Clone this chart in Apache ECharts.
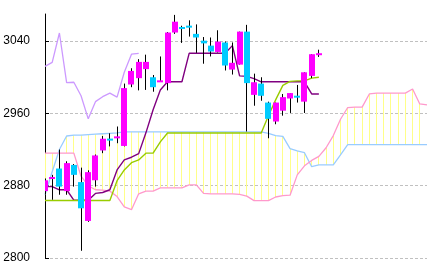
<!DOCTYPE html>
<html>
<head>
<meta charset="utf-8">
<script src="https://cdn.jsdelivr.net/npm/echarts@6/dist/echarts.min.js"></script>
<style>
html,body{margin:0;padding:0;background:#fff;}
#chart{width:432px;height:272px;}
</style>
</head>
<body>
<div id="chart"></div>
<script>
// ---- data ----
const categories = ['1','2','3','4','5','6','7','8','9','10','11','12','13','14','15','16','17','18','19','20',
  '21','22','23','24','25','26','27','28','29','30','31','32','33','34','35','36','37','38','39','40',
  '41','42','43','44','45','46','47','48','49','50','51','52','53','54'];

// candles: [open, close, low, high]
const candles = [
  [2874, 2886, 2870, 2888],
  [2888, 2889, 2864.5, 2892],
  [2899, 2879, 2870, 2920],
  [2874, 2905, 2870, 2907],
  [2903, 2892, 2879, 2904],
  [2884, 2855, 2808, 2900],
  [2841, 2895, 2840, 2897],
  [2886, 2913.5, 2879, 2914.5],
  [2919, 2932, 2916, 2935],
  [2932, 2930, 2923.5, 2938],
  [2933, 2934, 2927, 2945.5],
  [2924, 2988, 2923.5, 2993],
  [2992, 3007, 2989, 3010],
  [2999, 3017, 2985.5, 3020],
  [3009, 3017, 2986, 3025],
  [3000, 2989, 2984, 3002.5],
  [2995, 2996, 2995, 3023],
  [2993.5, 3049.5, 2985.5, 3050],
  [3049.5, 3061.5, 3048, 3069],
  [3055.5, 3053.5, 3038, 3057],
  [3057, 3055, 3045, 3063],
  [3048, 3044, 3027, 3058.5],
  [3040.5, 3037.5, 3015, 3044.5],
  [3035, 3028.5, 3023, 3044],
  [3028, 3039.5, 3027.5, 3052],
  [3038.5, 3013, 3007.5, 3039.5],
  [3008.5, 3016, 3003, 3038.5],
  [3014, 3050.5, 3014, 3050.5],
  [3050.5, 2993.5, 2940, 3058],
  [2980.5, 2994.5, 2968.5, 3004],
  [2993, 2979.5, 2974, 3000],
  [2972, 2954, 2932.5, 2973],
  [2951, 2972, 2948, 2972],
  [2963, 2978, 2957.5, 2981.5],
  [2976.5, 2982.5, 2960.5, 2982.5],
  [2979.5, 2977.5, 2972, 2991.5],
  [2973, 3005.5, 2960.5, 3005.5],
  [3001.5, 3025.5, 2999, 3025.5],
  [3024.5, 3026.5, 3022.5, 3030.5]
];

const tenkan = [2879, 2879, 2875.5, 2875.5, 2864, 2864, 2864, 2871.5, 2872.5, 2875.5,
  2897.5, 2908.5, 2911.5, 2915.5, 2938.5, 2964, 2986, 2995, 2995, 2995,
  3026.5, 3026.5, 3026.5, 3026.5, 3026.5, 3026.5, 3035, 3001.5, 3001, 2998.5,
  2995, 2995, 2995, 2995, 2995, 2995, 2995, 2981.5, 2981.5];

const kijun = [2863.7, 2863.7, 2863.7, 2863.7, 2863.7, 2863.7, 2863.7, 2863.7, 2863.7, 2863.7,
  2885.5, 2897.5, 2905.5, 2908.5, 2916, 2916, 2928.5, 2938.3, 2938.3, 2938.3,
  2938.3, 2938.3, 2938.3, 2938.3, 2938.3, 2938.3, 2938.3, 2938.3, 2938.3, 2938.3,
  2938.3, 2957.5, 2975, 2991, 2995.5, 2996, 2996, 2999, 3000];

const chikou = [3012, 3016.5, 3049, 2994, 2994.5, 2979.5, 2954, 2973, 2978.5, 2982.5,
  2978, 3005.5, 3025.5, 3026.5];

const spanBlue = [2870, 2895.5, 2920, 2935, 2936, 2936, 2936.5, 2937, 2937.5, 2938,
  2938.5, 2939.5, 2939.5, 2939.5, 2939.5, 2939.5, 2939.5, 2939.5, 2939.5, 2939.5,
  2939.5, 2939.5, 2939.5, 2939.5, 2939.5, 2939.5, 2939.5, 2939.5, 2939.5, 2939.5,
  2939.5, 2938, 2935.5, 2934.5, 2921, 2918.5, 2916.5, 2901, 2903, 2903,
  2903, 2914, 2925.5, 2925.5, 2925.5, 2925.5, 2925.5, 2925.5, 2925.5, 2925.5,
  2925.5, 2925.5, 2925.5, 2925.5];

const spanPink = [2916, 2916, 2916, 2916, 2916, 2890.5, 2880, 2875.5, 2875, 2874,
  2868, 2856.5, 2853.5, 2871, 2874, 2874, 2877.5, 2877.5, 2877.5, 2877.5,
  2881, 2881, 2871.5, 2871, 2871, 2871, 2871, 2870.5, 2868.5, 2863.5,
  2863.5, 2863.5, 2867.5, 2869, 2869.5, 2892, 2902, 2908, 2912.5, 2922,
  2935.5, 2953.5, 2966.5, 2967, 2967, 2981.5, 2982.5, 2982.5, 2982.5, 2982.5,
  2982.5, 2987, 2970.5, 2969.5];

const yTicks = [2800, 2880, 2960, 3040];

// ---- build ----
const candleData = candles.map((c, i) => [i, c[0], c[1], c[2], c[3]]);
const cloudData = spanBlue.map((v, i) => [i, v, spanPink[i]]);

const chart = echarts.init(document.getElementById('chart'), null, {renderer: 'canvas'});

function crisp(x) { return Math.round(x - 0.5) + 0.5; }

const option = {
  animation: false,
  backgroundColor: '#ffffff',
  grid: {left: 45, right: 5, top: 14, bottom: 14, containLabel: false},
  xAxis: {
    type: 'category',
    data: categories,
    boundaryGap: false,
    axisLine: {show: false},
    axisTick: {show: false},
    axisLabel: {show: false},
    splitLine: {show: false}
  },
  yAxis: {
    type: 'value',
    min: 2800,
    max: 3070,
    interval: 80,
    axisLine: {show: true, lineStyle: {color: '#000', width: 1}},
    axisTick: {show: true, inside: true, length: 4, lineStyle: {color: '#000'}, customValues: yTicks},
    axisLabel: {
      show: true, color: '#000', margin: 15,
      fontFamily: "'Liberation Sans Narrow', 'Liberation Sans', sans-serif", fontSize: 12,
      customValues: yTicks,
      formatter: function (v) { return String(v); }
    },
    splitLine: {show: true, lineStyle: {color: '#c0c0c0', type: [3, 2], width: 1}}
  },
  series: [
    {
      type: 'custom',
      name: 'cloud',
      z: 1,
      clip: true,
      data: cloudData,
      encode: {x: 0, y: [1, 2]},
      renderItem: function (params, api) {
        const p1 = api.coord([api.value(0), api.value(1)]);
        const p2 = api.coord([api.value(0), api.value(2)]);
        const x = crisp(p1[0]);
        return {type: 'line', shape: {x1: x, y1: p1[1], x2: x, y2: p2[1]},
          style: {stroke: '#ffff88', lineWidth: 1}};
      }
    },
    {type: 'line', name: 'spanBlue', data: spanBlue, z: 2, symbol: 'none', showSymbol: false,
      lineStyle: {color: '#99ccff', width: 1.3}, itemStyle: {color: '#99ccff'}},
    {type: 'line', name: 'spanPink', data: spanPink, z: 2, symbol: 'none', showSymbol: false,
      lineStyle: {color: '#ff99cc', width: 1.3}, itemStyle: {color: '#ff99cc'}},
    {type: 'line', name: 'chikou', data: chikou, z: 3, symbol: 'none', showSymbol: false,
      lineStyle: {color: '#cc99ff', width: 1.3}, itemStyle: {color: '#cc99ff'}},
    {type: 'line', name: 'tenkan', data: tenkan, z: 3, symbol: 'none', showSymbol: false,
      lineStyle: {color: '#800080', width: 1.4}, itemStyle: {color: '#800080'}},
    {type: 'line', name: 'kijun', data: kijun, z: 4, symbol: 'none', showSymbol: false,
      lineStyle: {color: '#99cc00', width: 1.4}, itemStyle: {color: '#99cc00'}},
    {
      type: 'custom',
      name: 'candles',
      z: 5,
      clip: true,
      data: candleData,
      encode: {x: 0, y: [1, 2, 3, 4]},
      renderItem: function (params, api) {
        const i = api.value(0);
        const o = api.coord([i, api.value(1)]);
        const c = api.coord([i, api.value(2)]);
        const l = api.coord([i, api.value(3)]);
        const h = api.coord([i, api.value(4)]);
        const x = crisp(o[0]);
        const up = api.value(2) >= api.value(1);
        let top = Math.min(o[1], c[1]);
        let bot = Math.max(o[1], c[1]);
        if (bot - top < 2) { const m = (top + bot) / 2; top = m - 1; bot = m + 1; }
        return {
          type: 'group',
          children: [
            {type: 'line', shape: {x1: x, y1: h[1], x2: x, y2: l[1]}, style: {stroke: '#000', lineWidth: 1}},
            {type: 'rect', shape: {x: Math.round(o[0]) - 3, y: top, width: 6, height: bot - top},
              style: {fill: up ? '#ff00ff' : '#00ccff', stroke: null}}
          ]
        };
      }
    }
  ]
};
chart.setOption(option);
</script>
</body>
</html>
